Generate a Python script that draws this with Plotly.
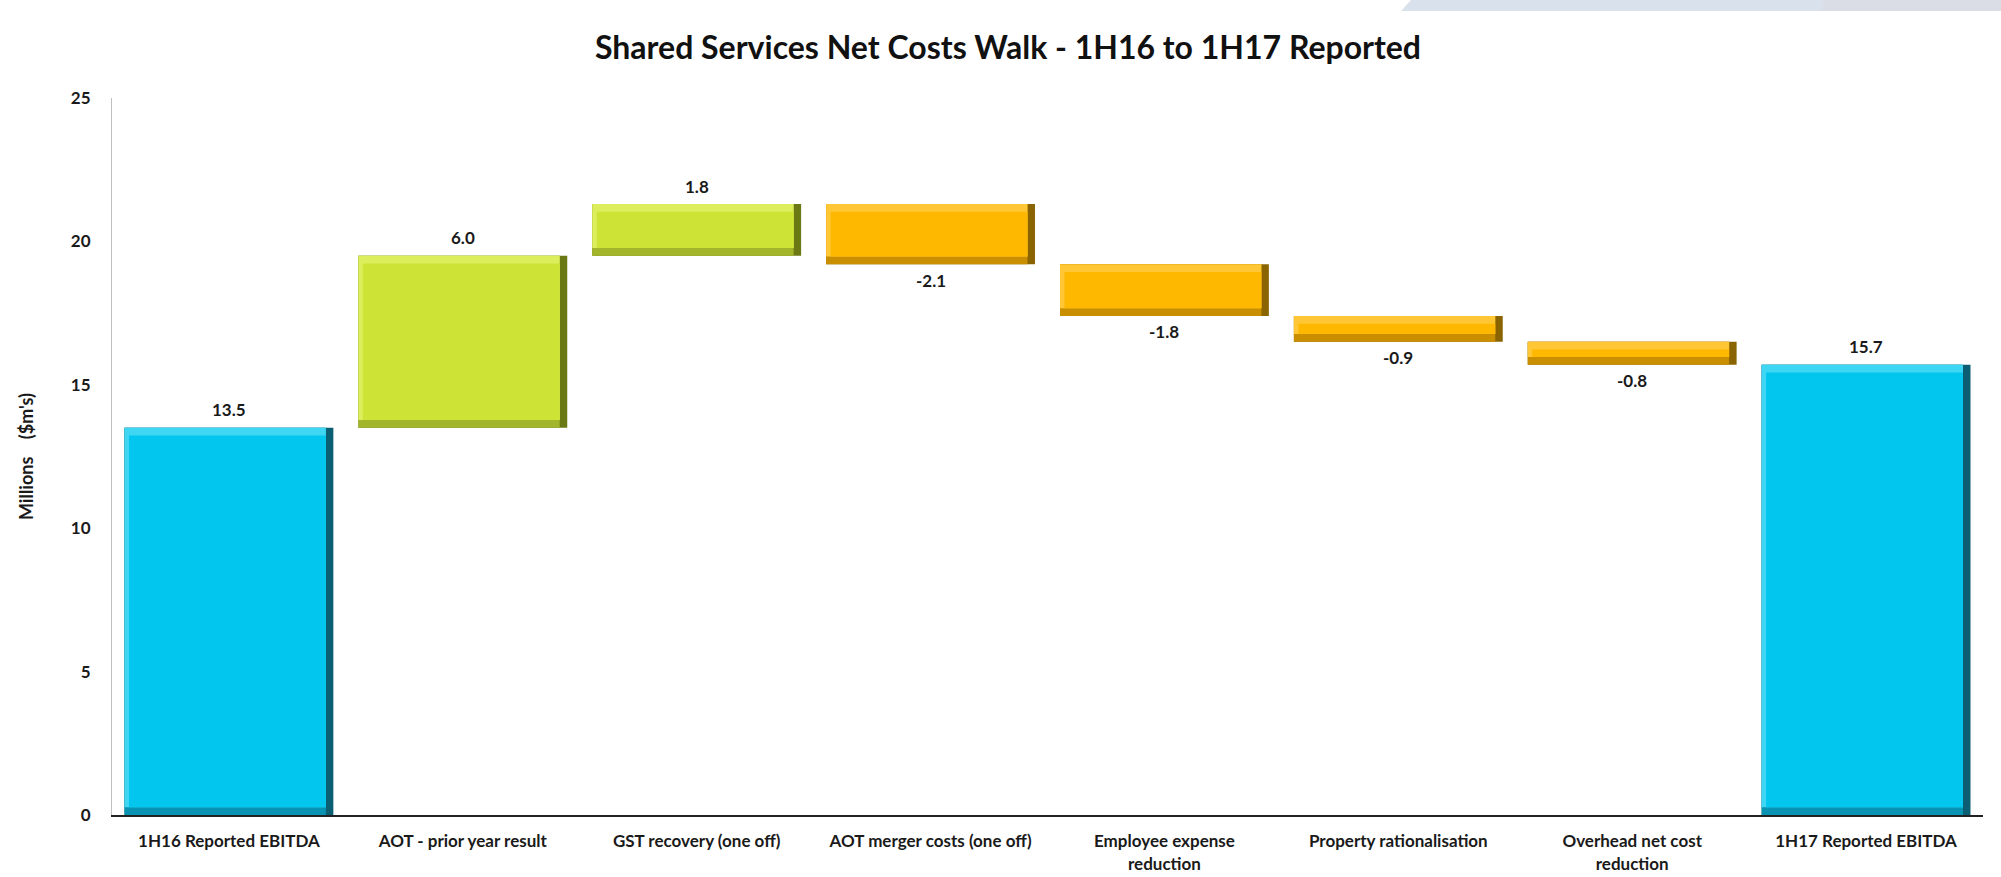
import plotly.graph_objects as go

categories = ["1H16 Reported EBITDA", "AOT - prior year result", "GST recovery (one off)",
              "AOT merger costs (one off)", "Employee expense<br>reduction",
              "Property rationalisation", "Overhead net cost<br>reduction", "1H17 Reported EBITDA"]
steps = [13.5, 6.0, 1.8, -2.1, -1.8, -0.9, -0.8, 15.7]
kinds = ["total", "rel", "rel", "rel", "rel", "rel", "rel", "total"]
y_ticks = [0, 5, 10, 15, 20, 25]

# colours per kind: (face, top/left light bevel, bottom bevel, right dark bevel)
pal = {
    "total": ("#02C6EE", "#3FD6F3", "#0893B2", "#0C5F72"),
    "up": ("#CDE336", "#DCEE5C", "#A3B52A", "#6A7914"),
    "down": ("#FFB800", "#FFC736", "#C98F00", "#8A6400"),
}

# waterfall spans computed from data
lo, hi, kind_col, labels = [], [], [], []
run = 0.0
for v, k in zip(steps, kinds):
    if k == "total":
        lo.append(0.0); hi.append(v); run = v; kind_col.append("total")
    else:
        a, b = run, run + v
        lo.append(min(a, b)); hi.append(max(a, b)); run = b
        kind_col.append("up" if v >= 0 else "down")
    labels.append(f"{v:.1f}")

W = 0.893          # bar width (category units)
EX = 0.032         # horizontal bevel (category units)
EY = 0.27          # vertical bevel (data units)

n = len(categories)
heights = [h - l for h, l in zip(hi, lo)]
col = lambda i: [pal[k][i] for k in kind_col]

fig = go.Figure()
# right dark bevel (full bar)
fig.add_trace(go.Bar(x=categories, y=heights, base=lo, width=[W]*n, offset=[-W/2]*n,
                     marker=dict(color=col(3), line=dict(width=0)), hoverinfo="skip", showlegend=False))
# bottom bevel
fig.add_trace(go.Bar(x=categories, y=heights, base=lo, width=[W - EX]*n, offset=[-W/2]*n,
                     marker=dict(color=col(2), line=dict(width=0)), hoverinfo="skip", showlegend=False))
# top/left light bevel
fig.add_trace(go.Bar(x=categories, y=[h - EY for h in heights], base=[l + EY for l in lo],
                     width=[W - EX]*n, offset=[-W/2]*n,
                     marker=dict(color=col(1), line=dict(width=0)), hoverinfo="skip", showlegend=False))
# face
fig.add_trace(go.Bar(x=categories, y=[h - 2*EY for h in heights], base=[l + EY for l in lo],
                     width=[W - EX - EX*0.6]*n, offset=[-W/2 + EX*0.6]*n,
                     marker=dict(color=col(0), line=dict(width=0)),
                     customdata=labels, hovertemplate="%{x}: %{customdata}<extra></extra>",
                     showlegend=False))

lab_font = dict(family="Lato", size=17, color="#1a1a1a", weight="bold")
annotations = []
for c, k, l, h, t in zip(categories, kind_col, lo, hi, labels):
    if k == "down":
        annotations.append(dict(x=c, y=l, text=t, showarrow=False, yanchor="middle", yshift=-16, font=lab_font))
    else:
        annotations.append(dict(x=c, y=h, text=t, showarrow=False, yanchor="middle", yshift=18, font=lab_font))

FW, FH = 2001, 877
ML, MR, MT, MB = 112, 18, 98, 62
px_x = lambda p: (p - ML) / (FW - ML - MR)
px_y = lambda p: (FH - MB - p) / (FH - MT - MB)

fig.update_layout(
    width=FW, height=FH,
    margin=dict(l=ML, r=MR, t=MT, b=MB, autoexpand=False),
    paper_bgcolor="white", plot_bgcolor="white",
    barmode="overlay",
    title=dict(text="<b>Shared Services Net Costs Walk - 1H16 to 1H17 Reported</b>",
               x=1008 / FW, xanchor="center", y=1 - 48/FH, yanchor="middle", yref="container",
               font=dict(family="Lato", size=32, color="#111111")),
    font=dict(family="Lato", color="#1a1a1a"),
    annotations=annotations,
    shapes=[
        dict(type="path", xref="paper", yref="paper",
             path=f"M {px_x(1401)} {px_y(11)} L {px_x(1411)} {px_y(0)} L {px_x(2001)} {px_y(0)} L {px_x(2001)} {px_y(11)} Z",
             fillcolor="#D9E2EC", line=dict(width=0), layer="below"),
        dict(type="path", xref="paper", yref="paper",
             path=f"M {px_x(1821)} {px_y(11)} L {px_x(1824)} {px_y(0)} L {px_x(2001)} {px_y(0)} L {px_x(2001)} {px_y(11)} Z",
             fillcolor="#DADDE6", line=dict(width=0), layer="below"),
    ],
)

fig.update_xaxes(type="category", showline=True, linecolor="#222222", linewidth=2,
                 showgrid=False, ticks="", ticklabelstandoff=10, automargin=False,
                 tickfont=dict(family="Lato", size=17, color="#1a1a1a", weight="bold"))
fig.update_yaxes(range=[0, 25], tickvals=y_ticks, showline=True, linecolor="#BFBFBF", linewidth=1,
                 showgrid=False, zeroline=False, ticks="", ticklabelstandoff=17, automargin=False,
                 tickfont=dict(family="Lato", size=17, color="#1a1a1a", weight="bold"),
                 title=dict(text="Millions\u00a0\u00a0\u00a0\u00a0($m's)", standoff=32,
                            font=dict(family="Lato", size=18, color="#1a1a1a", weight="bold")))

fig.write_html("out.html", config={"displayModeBar": False},
               post_script="document.body.style.margin='0px';")
